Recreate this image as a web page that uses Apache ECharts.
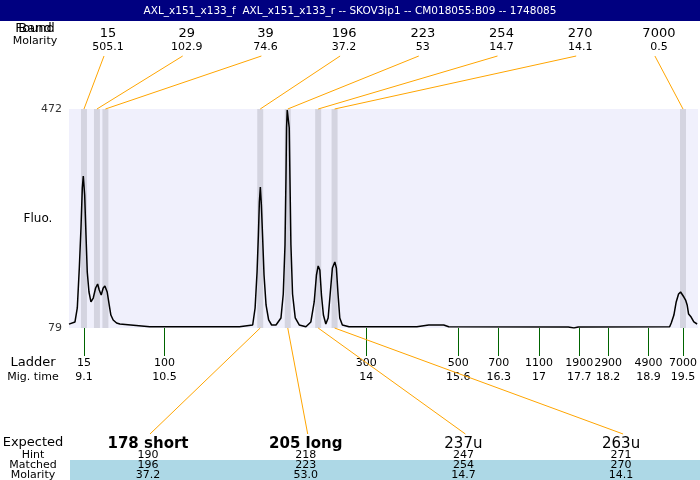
<!DOCTYPE html>
<html><head><meta charset="utf-8">
<script src="https://cdn.jsdelivr.net/npm/echarts@6/dist/echarts.min.js"></script>
<style>html,body{margin:0;padding:0;background:#fff}#c{width:700px;height:480px}</style>
</head><body><div id="c"></div>
<script>
const titleText = 'AXL_x151_x133_f  AXL_x151_x133_r -- SKOV3ip1 -- CM018055:B09 -- 1748085';
const foundSizes = ['15','29','39','196','223','254','270','7000'];
const foundMolarity = ['505.1','102.9','74.6','37.2','53','14.7','14.1','0.5'];
const peakTimes = [9.1, 9.325, 9.472, 12.16, 12.638, 13.166, 13.451, 19.5];
const ladderSizes = [15,100,300,500,700,1100,1900,2900,4900,7000];
const ladderTimes = [9.1,10.5,14,15.6,16.3,17,17.7,18.2,18.9,19.5];
const expectedLabels = ['178 short','205 long','237u','263u'];
const expectedBold = [true,true,false,false];
const hintSizes = ['190','218','247','271'];
const matchedSizes = ['196','223','254','270'];
const matchedMolarity = ['37.2','53.0','14.7','14.1'];
const matchedPeakIndex = [3,4,5,6];
const fluoRange = [79, 472];
const timeRange = [8.84, 19.76];
const traceTime = [8.840,8.858,8.944,8.984,9.019,9.048,9.071,9.088,9.112,9.135,9.157,9.187,9.221,9.261,9.302,9.337,9.365,9.399,9.434,9.463,9.503,9.538,9.567,9.607,9.666,9.723,10.242,11.107,11.799,12.029,12.071,12.105,12.128,12.145,12.162,12.180,12.202,12.226,12.261,12.306,12.358,12.434,12.520,12.560,12.590,12.607,12.617,12.629,12.647,12.664,12.676,12.693,12.721,12.768,12.837,12.953,13.039,13.097,13.136,13.166,13.195,13.223,13.257,13.299,13.339,13.373,13.413,13.455,13.482,13.512,13.541,13.586,13.702,14.879,15.086,15.346,15.432,17.508,17.607,17.681,19.268,19.296,19.342,19.382,19.423,19.458,19.486,19.515,19.545,19.572,19.597,19.641,19.688,19.745];
const traceFluo = [86,84.4,89.8,114.9,186.7,258.5,330.2,351.8,317.7,245.9,179.5,143.6,125.7,132.8,150.8,158.0,147.2,138.2,150.8,154.4,143.6,120.3,102.3,93.4,88.0,86.2,81.3,81.3,81.3,84.4,114.9,179.5,245.9,305.1,332.0,299.7,240.5,174.1,120.3,93.4,84.4,84.4,97.0,140.0,228.0,348.2,437.9,470.2,470.2,437.9,348.2,228.0,140.0,97.0,84.4,81.3,89.8,125.7,174.1,190.3,183.1,138.2,102.3,86.2,97.0,138.2,186.7,197.4,186.7,138.2,97.0,84.4,81.3,81.3,84.4,84.4,81.3,80.8,79.0,80.8,81.3,88.0,102.3,125.7,140.0,143.6,143.6,134.6,129.2,120.3,104.1,98.7,89.8,86.2];

const FONT = '"DejaVu Sans", sans-serif';
const chart = echarts.init(document.getElementById('c'), null, {renderer:'canvas'});
const bandHalf = 0.052;
chart.setOption({
  animation: false,
  grid: {left: 69, right: 0, top: 109, bottom: 152, show: true, backgroundColor: '#f0f0fc', borderWidth: 0},
  xAxis: {
    type: 'value', min: timeRange[0], max: timeRange[1],
    axisLine: {show: false}, splitLine: {show: false},
    axisTick: {show: true, customValues: ladderTimes, length: 28, lineStyle: {color: '#006400', width: 1}},
    axisLabel: {
      customValues: ladderTimes, margin: 28, fontFamily: FONT, color: '#000',
      formatter: function (v, i) {
        let k = ladderTimes.indexOf(v); if (k < 0) k = i;
        return '{a|' + ladderSizes[k] + '}\n{b|' + ladderTimes[k] + '}';
      },
      rich: {a: {fontSize: 11, lineHeight: 14, fontFamily: FONT, color: '#000'}, b: {fontSize: 11, lineHeight: 14, fontFamily: FONT, color: '#000'}}
    }
  },
  yAxis: {
    type: 'value', min: fluoRange[0], max: fluoRange[1],
    axisLine: {show: false}, axisTick: {show: false}, splitLine: {show: false},
    axisLabel: {customValues: fluoRange, margin: 7, fontSize: 11, fontFamily: FONT, color: '#333'}
  },
  series: [{
    type: 'line', symbol: 'none', clip: true,
    lineStyle: {color: '#000', width: 1.5},
    data: traceTime.map((t, i) => [t, traceFluo[i]]),
    markArea: {
      silent: true,
      itemStyle: {color: '#d4d4e0'},
      data: peakTimes.map(t => [{xAxis: t - bandHalf}, {xAxis: t + bandHalf}])
    },
    z: 3
  }]
});

const yTop = chart.convertToPixel({yAxisIndex: 0}, fluoRange[1]);
const yBot = chart.convertToPixel({yAxisIndex: 0}, fluoRange[0]);
const bx = peakTimes.map(t => chart.convertToPixel({xAxisIndex: 0}, t));
const g = [];
const txt = (x, y, s, size, opts) => Object.assign({type: 'text', x: x, y: y, z: 10,
  style: {text: s, fill: '#000', font: (opts && opts.bold ? 'bold ' : '') + size + 'px ' + FONT, align: (opts && opts.align) || 'center', verticalAlign: 'middle'}});
g.push({type: 'rect', z: 5, shape: {x: 0, y: 0, width: 700, height: 21}, style: {fill: '#000080'}});
g.push({type: 'text', x: 350, y: 11, z: 10, style: {text: titleText, fill: '#fff', font: '10.5px ' + FONT, align: 'center', verticalAlign: 'middle'}});
g.push(txt(35, 29, 'Found', 13));
g.push(txt(35, 29, 'Band', 13));
g.push(txt(35, 41, 'Molarity', 11));
foundSizes.forEach((s, i) => {
  const x = 108 + i * 78.7;
  g.push(txt(x, 34, s, 13));
  g.push(txt(x, 47, foundMolarity[i], 11));
  g.push({type: 'line', z: 4, shape: {x1: x - 4, y1: 56, x2: bx[i], y2: yTop}, style: {stroke: '#ffa500', lineWidth: 1}});
});
g.push(txt(38, 219, 'Fluo.', 12));
g.push(txt(33, 363, 'Ladder', 13));
g.push(txt(33, 377, 'Mig. time', 11));
g.push({type: 'rect', z: 5, shape: {x: 70, y: 460, width: 630, height: 20}, style: {fill: '#add8e6'}});
g.push(txt(33, 443, 'Expected', 13));
g.push(txt(33, 455, 'Hint', 11));
g.push(txt(33, 465, 'Matched', 11));
g.push(txt(33, 475, 'Molarity', 11));
expectedLabels.forEach((s, j) => {
  const x = 148 + j * 157.7;
  g.push(txt(x, 444, s, 15, {bold: expectedBold[j]}));
  g.push(txt(x, 455, hintSizes[j], 11));
  g.push(txt(x, 465, matchedSizes[j], 11));
  g.push(txt(x, 475, matchedMolarity[j], 11));
  g.push({type: 'line', z: 4, shape: {x1: bx[matchedPeakIndex[j]], y1: yBot, x2: x + 2, y2: 434}, style: {stroke: '#ffa500', lineWidth: 1}});
});
chart.setOption({graphic: g});
</script>
</body></html>
